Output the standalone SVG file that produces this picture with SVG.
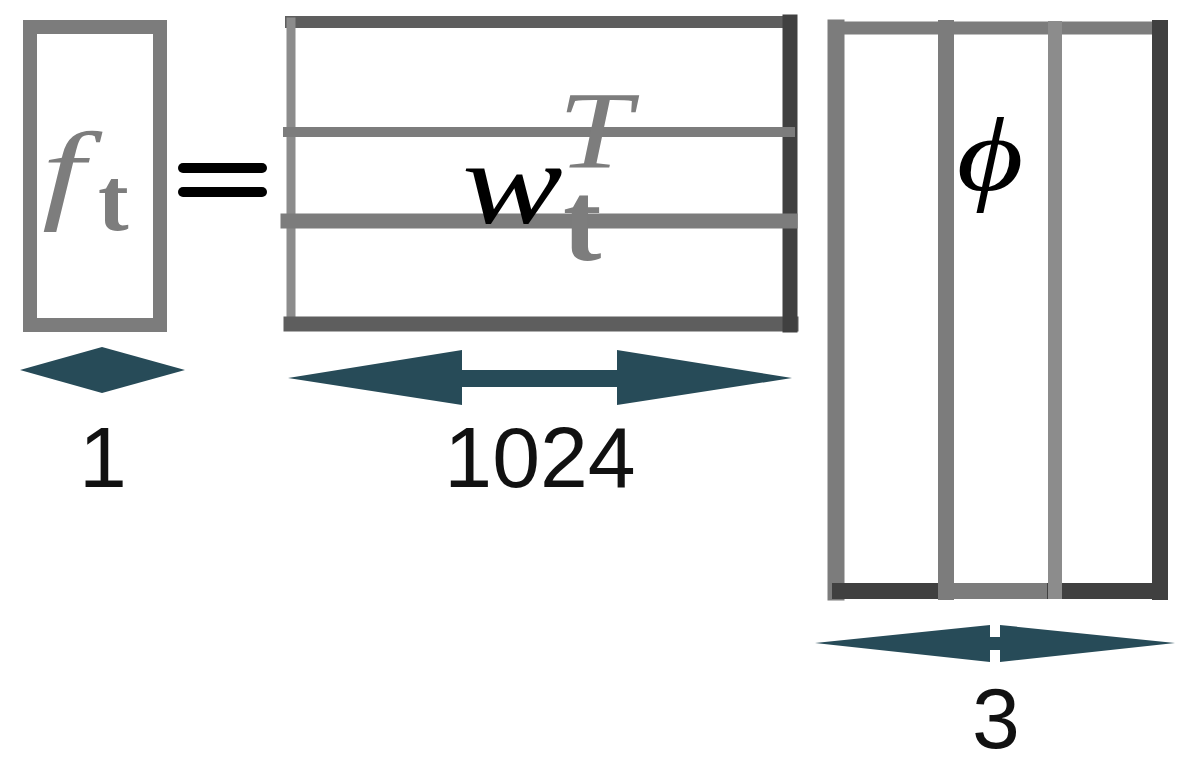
<svg xmlns="http://www.w3.org/2000/svg" width="1181" height="764" viewBox="0 0 1181 764">
<style>
.edge{fill:none;stroke-linecap:square}
.g1{stroke:#7c7c7c}
.g2{stroke:#8c8c8c}
.dk{stroke:#404040}
.md{stroke:#5e5e5e}
.math{font-family:"Liberation Serif","DejaVu Serif",serif}
.it{font-style:italic}
.bf{font-weight:bold}
.num{font-family:"Liberation Sans",Arial,sans-serif;font-size:86px;fill:#111;text-anchor:middle}
.dim{fill:#274b58}
</style>
<rect width="1181" height="764" fill="#fff"/>

<g id="node-ft">
  <rect x="30" y="27" width="130" height="298" class="edge g1" stroke-width="14"/>
  <text class="math it" font-size="110" transform="translate(42,209) scale(1.4,1)" fill="#7d7d7d">f</text>
  <text class="math bf" font-size="92" x="98" y="230" fill="#7d7d7d">t</text>
</g>

<g id="equals">
  <line x1="183" y1="168" x2="262" y2="168" stroke="#000" stroke-width="10" stroke-linecap="round"/>
  <line x1="183" y1="192" x2="262" y2="192" stroke="#000" stroke-width="10" stroke-linecap="round"/>
</g>

<g id="node-wt">
  <line x1="291" y1="22" x2="791" y2="22" class="edge md" stroke-width="12"/>
  <line x1="291" y1="22" x2="291" y2="325" class="edge g2" stroke-width="9"/>
  <line x1="291" y1="324" x2="791" y2="324" class="edge md" stroke-width="15"/>
  <line x1="790" y1="22" x2="790" y2="325" class="edge dk" stroke-width="15"/>
  <line x1="288" y1="132" x2="790" y2="132" class="edge g1" stroke-width="10"/>
  <line x1="288" y1="221" x2="790" y2="221" class="edge g1" stroke-width="15"/>
  <text class="math it" font-size="118" transform="translate(462,223) scale(1.28,1)" fill="#000">w</text>
  <text class="math it" font-size="110" transform="translate(558,168) scale(1.2,1)" fill="#7d7d7d">T</text>
  <text class="math bf" font-size="115" x="563" y="260" fill="#7d7d7d">t</text>
</g>

<g id="node-phi">
  <line x1="836" y1="28" x2="1160" y2="28" class="edge g1" stroke-width="13"/>
  <line x1="836" y1="28" x2="836" y2="592" class="edge g1" stroke-width="17"/>
  <line x1="836" y1="591" x2="1160" y2="591" class="edge g1" stroke-width="16"/>
  <line x1="840" y1="591" x2="946" y2="591" class="edge dk" stroke-width="16"/>
  <line x1="1055" y1="591" x2="1160" y2="591" class="edge dk" stroke-width="16"/>
  <line x1="1160" y1="28" x2="1160" y2="592" class="edge dk" stroke-width="16"/>
  <line x1="946" y1="28" x2="946" y2="592" class="edge g1" stroke-width="16"/>
  <line x1="1055" y1="28" x2="1055" y2="592" class="edge g2" stroke-width="14"/>
  <text class="math it" font-size="112" transform="translate(990,190) scale(1.15,0.95)" fill="#000" text-anchor="middle">ϕ</text>
</g>

<g id="connectors">
  <polygon class="dim" points="20,370 102,347 185,370 102,393"/>
  <polygon class="dim" points="288,378 462,350 462,370 617,370 617,350 792,378 617,405 617,387 462,387 462,405"/>
  <polygon class="dim" points="815,643 990,625 990,637 1000,637 1000,625 1175,643 1000,662 1000,650 990,650 990,662"/>
</g>

<g id="labels">
  <text class="num" x="103" y="487">1</text>
  <text class="num" x="540" y="487">1024</text>
  <text class="num" x="996" y="748">3</text>
</g>
</svg>
